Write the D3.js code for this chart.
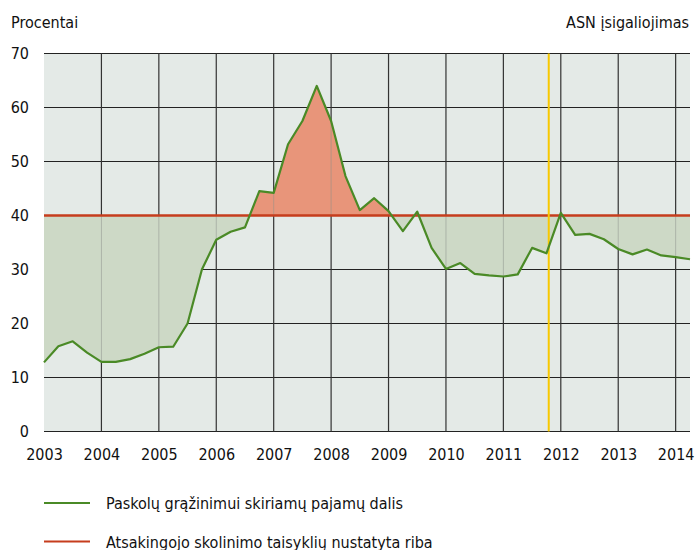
<!DOCTYPE html>
<html>
<head>
<meta charset="utf-8">
<script src="https://cdn.jsdelivr.net/npm/d3@7"></script>
<style>
  body { margin: 0; background: #fff; }
  text { font-family: "Liberation Sans Narrow", "DejaVu Sans Condensed", "DejaVu Sans", sans-serif; font-stretch: condensed; fill: #111; }
</style>
</head>
<body>
<svg width="699" height="550"></svg>
<script>
// Quarterly data, 2003 Q1 .. 2014 Q2
var startYear = 2003;
var ratio = [
  12.8, 15.8, 16.7, 14.6,
  12.9, 12.9, 13.4, 14.4,
  15.6, 15.7, 20.0, 30.0,
  35.5, 37.0, 37.8, 44.5,
  44.2, 53.2, 57.5, 64.0,
  57.5, 47.3, 41.0, 43.2,
  40.8, 37.1, 40.7, 34.0,
  30.1, 31.2, 29.2, 28.9,
  28.7, 29.1, 34.0, 33.0,
  40.5, 36.4, 36.6, 35.6,
  33.8, 32.8, 33.7, 32.6,
  32.3, 31.9
];
var limit = 40;
var asnDate = 2011.79;
var yearTicks = d3.range(2003, 2015);
var valueTicks = [0, 10, 20, 30, 40, 50, 60, 70];
var legendLabels = [
  "Paskolų grąžinimui skiriamų pajamų dalis",
  "Atsakingojo skolinimo taisyklių nustatyta riba"
];

var data = ratio.map(function (v, i) { return { t: startYear + i / 4, v: v }; });

var svg = d3.select("svg");
var plotL = 44, plotR = 690, plotT = 53.5, plotB = 431.5;
var fs = 16;

var x = d3.scaleLinear().domain([2003, 2014.25]).range([plotL, plotR]);
var y = d3.scaleLinear().domain([0, 70]).range([plotB, plotT]);

// background
svg.append("rect")
  .attr("x", plotL).attr("y", plotT)
  .attr("width", plotR - plotL).attr("height", plotB - plotT)
  .attr("fill", "#e4eae7");

// grid
svg.append("g").selectAll("line")
  .data(valueTicks).enter().append("line")
  .attr("x1", plotL).attr("x2", plotR)
  .attr("y1", function (d) { return y(d); }).attr("y2", function (d) { return y(d); })
  .attr("stroke", "#222").attr("stroke-width", 1.2);

svg.append("g").selectAll("line")
  .data(yearTicks.slice(1)).enter().append("line")
  .attr("x1", function (d) { return x(d); }).attr("x2", function (d) { return x(d); })
  .attr("y1", plotT).attr("y2", plotB)
  .attr("stroke", "#333").attr("stroke-width", 1.2);

// clips above / below the limit
var defs = svg.append("defs");
defs.append("clipPath").attr("id", "above")
  .append("rect").attr("x", plotL).attr("y", plotT - 20)
  .attr("width", plotR - plotL).attr("height", y(limit) - plotT + 20);
defs.append("clipPath").attr("id", "below")
  .append("rect").attr("x", plotL).attr("y", y(limit))
  .attr("width", plotR - plotL).attr("height", plotB - y(limit));

var area = d3.area()
  .x(function (d) { return x(d.t); })
  .y0(y(limit))
  .y1(function (d) { return y(d.v); });

defs.append("clipPath").attr("id", "areaclip")
  .append("path").attr("d", area(data));

svg.append("path").attr("d", area(data))
  .attr("fill", "#cdd9c6").attr("clip-path", "url(#below)");
svg.append("path").attr("d", area(data))
  .attr("fill", "#e8957a").attr("clip-path", "url(#above)");

// dotted year lines seen through the fills
svg.append("g").attr("clip-path", "url(#areaclip)")
  .selectAll("line")
  .data(yearTicks.slice(1)).enter().append("line")
  .attr("x1", function (d) { return x(d); }).attr("x2", function (d) { return x(d); })
  .attr("y1", plotT).attr("y2", plotB)
  .attr("stroke", "#8a8f8a").attr("stroke-width", 1)
  .attr("stroke-dasharray", "1,1");

// limit line
svg.append("line")
  .attr("x1", plotL).attr("x2", plotR)
  .attr("y1", y(limit)).attr("y2", y(limit))
  .attr("stroke", "#c63d1d").attr("stroke-width", 2.5);

// ASN line
svg.append("line")
  .attr("x1", x(asnDate)).attr("x2", x(asnDate))
  .attr("y1", plotT).attr("y2", plotB)
  .attr("stroke", "#f7c800").attr("stroke-width", 2);

// series line
var line = d3.line()
  .x(function (d) { return x(d.t); })
  .y(function (d) { return y(d.v); });
svg.append("path").attr("d", line(data))
  .attr("fill", "none").attr("stroke", "#4a8a26").attr("stroke-width", 2.2)
  .attr("stroke-linejoin", "round");

// axes
var yAxis = svg.append("g")
  .attr("transform", "translate(" + (plotL - 15) + ",0)")
  .call(d3.axisLeft(y).tickValues(valueTicks).tickSize(0).tickPadding(0));
yAxis.select(".domain").remove();
yAxis.selectAll("text").attr("font-size", fs).attr("font-family", null);

var xAxis = svg.append("g")
  .attr("transform", "translate(0," + plotB + ")")
  .call(d3.axisBottom(x).tickValues(yearTicks).tickFormat(d3.format("d")).tickSize(0).tickPadding(17));
xAxis.select(".domain").remove();
xAxis.selectAll("text").attr("font-size", fs).attr("font-family", null);

// titles
svg.append("text").attr("x", 11).attr("y", 28).attr("font-size", fs).text("Procentai");
svg.append("text").attr("x", 689).attr("y", 28).attr("font-size", fs)
  .attr("text-anchor", "end").text("ASN įsigaliojimas");

// legend
var legendColors = ["#4a8a26", "#c63d1d"];
var lg = svg.append("g").selectAll("g")
  .data(legendLabels).enter().append("g")
  .attr("transform", function (d, i) { return "translate(0," + (503 + i * 38.5) + ")"; });
lg.append("line").attr("x1", 44).attr("x2", 90).attr("y1", 0).attr("y2", 0)
  .attr("stroke", function (d, i) { return legendColors[i]; }).attr("stroke-width", 2);
lg.append("text").attr("x", 106).attr("y", 6).attr("font-size", fs)
  .text(function (d) { return d; });
</script>
</body>
</html>
